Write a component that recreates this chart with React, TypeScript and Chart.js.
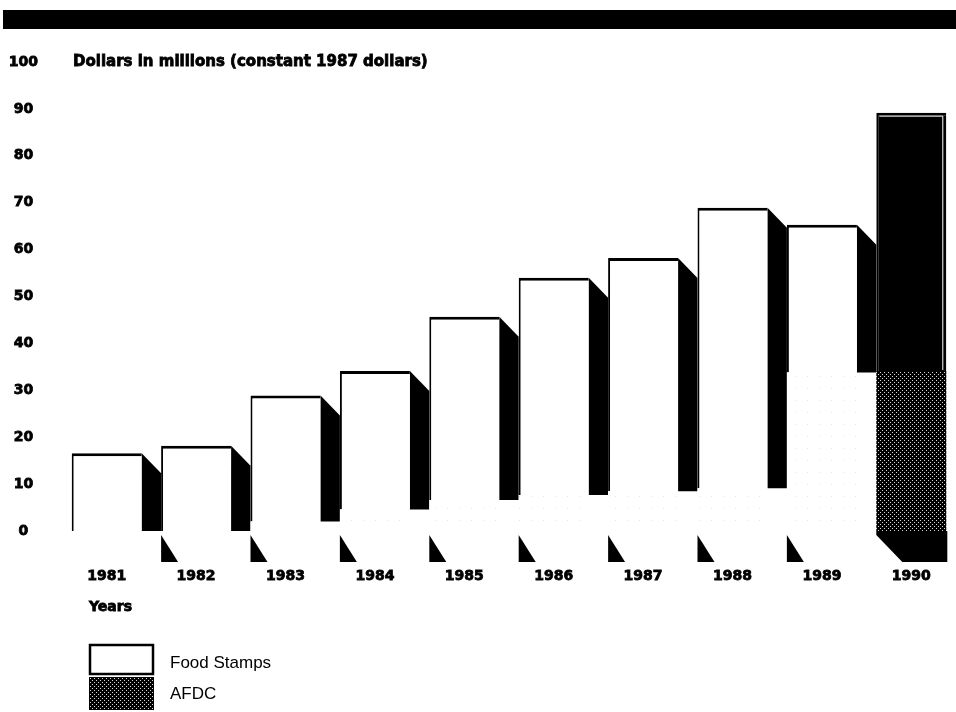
import React, { useEffect, useRef } from "react";
import { Chart, registerables } from "chart.js";

Chart.register(...registerables);

// ---- data ----
const years = ["1981", "1982", "1983", "1984", "1985", "1986", "1987", "1988", "1989", "1990"];
const afdc = [0, 0, 2.0, 4.6, 6.6, 7.7, 8.5, 9.1, 33.8, 34.1];
const foodStamps = [16.6, 18.2, 26.9, 29.5, 39.1, 46.3, 49.7, 59.8, 31.5, 55.1];
const yTicks = [0, 10, 20, 30, 40, 50, 60, 70, 80, 90, 100];
const axisTitle = "Dollars in millions (constant 1987 dollars)";
const xTitle = "Years";
const seriesNames = ["Food Stamps", "AFDC"];

const BOLD = '"DejaVu Sans", sans-serif';
const PLAIN = '"Liberation Sans", Arial, sans-serif';

function makePattern(kind: "dark" | "light"): CanvasPattern | string {
  const c = document.createElement("canvas");
  const size = kind === "dark" ? 4 : 12;
  c.width = size;
  c.height = size;
  const g = c.getContext("2d");
  if (!g) return kind === "dark" ? "#222" : "#fff";
  if (kind === "dark") {
    g.fillStyle = "#000";
    g.fillRect(0, 0, size, size);
    g.fillStyle = "#d8d8d8";
    g.fillRect(0, 0, 1, 1);
    g.fillRect(2, 2, 1, 1);
  } else {
    g.fillStyle = "#fff";
    g.fillRect(0, 0, size, size);
    g.fillStyle = "#e4e4e4";
    g.fillRect(3, 4, 1, 1);
  }
  const p = g.createPattern(c, "repeat");
  return p || (kind === "dark" ? "#222" : "#fff");
}

export default function App() {
  const ref = useRef<HTMLCanvasElement | null>(null);

  useEffect(() => {
    const canvas = ref.current;
    if (!canvas) return;
    const dark = makePattern("dark");
    const light = makePattern("light");
    const last = years.length - 1;

    const decor = {
      id: "decor",
      beforeDraw(chart: any) {
        const ctx = chart.ctx;
        ctx.save();
        ctx.fillStyle = "#000";
        ctx.fillRect(3, 10, chart.width - 3, 19);
        ctx.restore();
      },
      beforeDatasetsDraw(chart: any) {
        const ctx = chart.ctx;
        const xs = chart.scales.x;
        const ys = chart.scales.y;
        const base0 = ys.getPixelForValue(0);
        const step = xs.getPixelForValue(1) - xs.getPixelForValue(0);
        const meta = chart.getDatasetMeta(1);
        ctx.save();
        ctx.fillStyle = "#000";
        meta.data.forEach((bar: any, i: number) => {
          const p = bar.getProps(["x", "y", "base", "width"], true);
          const L = p.x - p.width / 2;
          const R = p.x + p.width / 2;
          const sw = step - p.width;
          if (i < last) {
            // side shadow
            ctx.beginPath();
            ctx.moveTo(R, p.y);
            ctx.lineTo(R + sw, p.y + 20);
            ctx.lineTo(R + sw, p.base);
            ctx.lineTo(R, p.base);
            ctx.closePath();
            ctx.fill();
          }
          // floor
          if (i === last) {
            ctx.beginPath();
            ctx.moveTo(L, base0);
            ctx.lineTo(R + 1, base0);
            ctx.lineTo(R + 1, base0 + 31);
            ctx.lineTo(L + 26, base0 + 31);
            ctx.lineTo(L, base0 + 4);
            ctx.closePath();
            ctx.fill();
          } else if (i > 0) {
            ctx.beginPath();
            ctx.moveTo(L, base0 + 4);
            ctx.lineTo(L, base0 + 31);
            ctx.lineTo(L + 17, base0 + 31);
            ctx.closePath();
            ctx.fill();
          }
        });
        ctx.restore();
      },
      afterDatasetsDraw(chart: any) {
        // thin inner highlight on the dark 1990 top segment
        const ctx = chart.ctx;
        const bar = chart.getDatasetMeta(1).data[last];
        if (!bar) return;
        const p = bar.getProps(["x", "y", "base", "width"], true);
        const R = p.x + p.width / 2;
        ctx.save();
        ctx.strokeStyle = "#fff";
        ctx.lineWidth = 1;
        ctx.beginPath();
        ctx.moveTo(p.x - p.width / 2 + 3, p.y + 3.5);
        ctx.lineTo(R - 3.5, p.y + 3.5);
        ctx.lineTo(R - 3.5, p.base - 1);
        ctx.stroke();
        ctx.restore();
      },
      afterDraw(chart: any) {
        const ctx = chart.ctx;
        const ys = chart.scales.y;
        ctx.save();
        ctx.fillStyle = "#000";
        ctx.strokeStyle = "#000";
        ctx.lineWidth = 0.8;
        ctx.font = `bold 15px ${BOLD}`;
        ctx.textBaseline = "middle";
        ctx.textAlign = "left";
        const ty = ys.getPixelForValue(100);
        ctx.fillText(axisTitle, 73, ty);
        ctx.strokeText(axisTitle, 73, ty);
        ctx.font = `bold 14px ${BOLD}`;
        ctx.textBaseline = "alphabetic";
        ctx.fillText(xTitle, 89, 611);
        ctx.strokeText(xTitle, 89, 611);

        // legend
        ctx.fillStyle = "#fff";
        ctx.fillRect(89, 644, 65, 31);
        ctx.lineWidth = 2.5;
        ctx.strokeRect(90, 645, 63, 29);
        ctx.fillStyle = dark as any;
        ctx.fillRect(89, 677, 65, 33);
        ctx.fillStyle = "#000";
        ctx.font = `17px ${PLAIN}`;
        ctx.fillText(seriesNames[0], 170, 668);
        ctx.fillText(seriesNames[1], 170, 699);
        ctx.restore();
      },
    };

    const tickFont = { family: BOLD, size: 14, weight: "bold" };

    const chart = new Chart(canvas, {
      type: "bar",
      data: {
        labels: years,
        datasets: [
          {
            label: seriesNames[1],
            data: afdc,
            backgroundColor: years.map((_, i) => (i === last ? dark : light)) as any,
            borderWidth: 0,
            barPercentage: 0.783,
            categoryPercentage: 1,
            inflateAmount: 0,
          },
          {
            label: seriesNames[0],
            data: foodStamps,
            backgroundColor: years.map((_, i) => (i === last ? "#000" : "#fff")),
            borderColor: "#000",
            borderWidth: { top: 3, left: 2, right: 0, bottom: 0 } as any,
            borderSkipped: "start",
            barPercentage: 0.783,
            categoryPercentage: 1,
            inflateAmount: 0,
          },
        ],
      },
      options: {
        animation: false,
        responsive: false,
        devicePixelRatio: 1,
        layout: { padding: { top: 62, left: 0, right: 0, bottom: 0 } },
        plugins: {
          legend: { display: false },
          title: { display: false },
          tooltip: { enabled: false },
        },
        scales: {
          x: {
            stacked: true,
            grid: { display: false, drawTicks: true, tickLength: 37 },
            border: { display: false },
            ticks: {
              color: "#000",
              font: tickFont,
              textStrokeColor: "#000",
              textStrokeWidth: 0.8,
              padding: 0,
              maxRotation: 0,
              autoSkip: false,
            },
            afterFit: (s: any) => {
              s.height = 181;
            },
          },
          y: {
            stacked: true,
            min: 0,
            max: 100,
            grid: { display: false, drawTicks: false },
            border: { display: false },
            afterBuildTicks: (s: any) => {
              s.ticks = yTicks.map((v) => ({ value: v }));
            },
            ticks: {
              color: "#000",
              font: tickFont,
              textStrokeColor: "#000",
              textStrokeWidth: 0.8,
              crossAlign: "center",
              padding: 24,
            },
            afterFit: (s: any) => {
              s.width = 62;
            },
          },
        },
      },
      plugins: [decor],
    } as any);

    return () => chart.destroy();
  }, []);

  return (
    <div style={{ position: "fixed", left: 0, top: 0, width: 956, height: 712, background: "#fff" }}>
      <canvas ref={ref} width={956} height={712} style={{ display: "block" }} />
    </div>
  );
}
